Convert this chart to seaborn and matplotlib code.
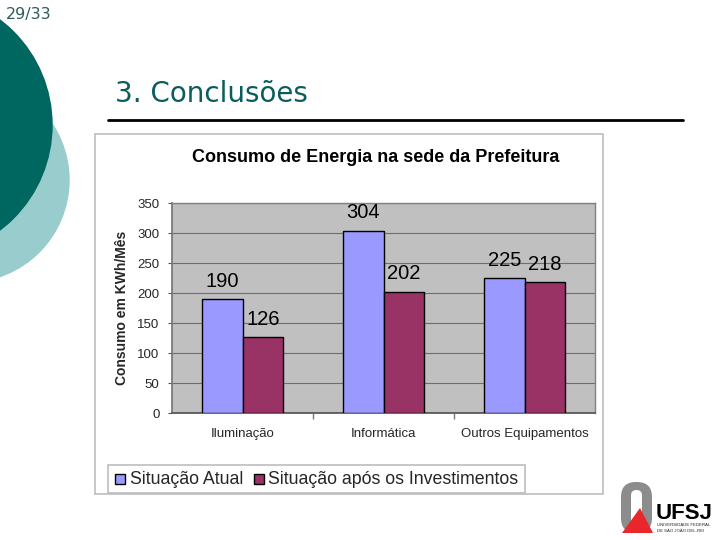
import matplotlib
matplotlib.use("Agg")
import matplotlib.pyplot as plt
import matplotlib.patches as mpatches
import seaborn as sns
import pandas as pd

categories = ["Iluminação", "Informática", "Outros Equipamentos"]
series_names = ["Situação Atual", "Situação após os Investimentos"]
atual = [190, 304, 225]
apos = [126, 202, 218]
yticks = [0, 50, 100, 150, 200, 250, 300, 350]

df = pd.DataFrame({
    "cat": categories * 2,
    "serie": [series_names[0]] * 3 + [series_names[1]] * 3,
    "valor": atual + apos,
})

sns.set_theme(style="white")
plt.rcParams['font.family'] = ['Liberation Sans', 'DejaVu Sans']

W, H = 720, 540
fig = plt.figure(figsize=(7.2, 5.4), dpi=100)
fig.patch.set_facecolor("white")

# slide background axes in pixel coordinates
bg = fig.add_axes([0, 0, 1, 1])
bg.set_xlim(0, W)
bg.set_ylim(H, 0)
bg.axis("off")
bg.add_patch(mpatches.Circle((-33, 180), 102, color="#99CCCC", zorder=1))
bg.add_patch(mpatches.Circle((-80, 125), 132, color="#006660", zorder=2))
bg.text(6, 15, "29/33", fontsize=11.5, color="#2F5C5C", family="DejaVu Sans",
        va="center", ha="left", zorder=5)
bg.text(115, 94, "3. Conclusões", fontsize=20, color="#0B5C5C", family="DejaVu Sans",
        va="center", ha="left")
bg.plot([108, 683], [119.5, 119.5], color="black", lw=2)
# chart frame
bg.add_patch(mpatches.Rectangle((95, 134), 508, 360, fill=True, facecolor="white",
                                edgecolor="#BDBDBD", lw=1.2))
bg.text(376, 157, "Consumo de Energia na sede da Prefeitura", fontsize=13,
        fontweight="bold", ha="center", va="center", color="black")
# legend box
bg.add_patch(mpatches.Rectangle((108, 465), 417, 28, facecolor="white",
                                edgecolor="#BDBDBD", lw=1.2))
bg.add_patch(mpatches.Rectangle((115, 474), 10, 10, facecolor="#9999FF", edgecolor="black", lw=1))
bg.text(130, 479.5, series_names[0], fontsize=12.8, ha="left", va="center")
bg.add_patch(mpatches.Rectangle((254, 474), 10, 10, facecolor="#993366", edgecolor="black", lw=1))
bg.text(268, 479.5, series_names[1], fontsize=12.8, ha="left", va="center")

# logo
bg.add_patch(mpatches.FancyBboxPatch((621, 482), 31, 51, boxstyle="round,pad=0,rounding_size=15",
                                     facecolor="#8C8C8C", edgecolor="none"))
bg.add_patch(mpatches.FancyBboxPatch((631, 490), 11, 43, boxstyle="round,pad=0,rounding_size=5.5",
                                     facecolor="white", edgecolor="none"))
bg.add_patch(mpatches.Polygon([(622, 533), (653, 533), (640, 508)], closed=True,
                              facecolor="#E8262B", edgecolor="none"))
bg.text(656, 519, "UFSJ", fontsize=16, fontweight="bold", ha="left", va="baseline",
        color="black")
bg.text(657, 524.5, "UNIVERSIDADE FEDERAL", fontsize=3.1, ha="left", va="center", color="#222222")
bg.text(657, 531.5, "DE SÃO JOÃO DEL-REI", fontsize=3.1, ha="left", va="center", color="#222222")

# chart axes
ax = fig.add_axes([172 / W, 1 - 413 / H, 423 / W, 210 / H])
ax.set_facecolor("#C0C0C0")
sns.barplot(data=df, x="cat", y="valor", hue="serie", order=categories,
            hue_order=series_names, palette=["#9999FF", "#993366"],
            width=0.575, gap=0, edgecolor="black", linewidth=1, saturation=1,
            legend=False, ax=ax, zorder=3)
ax.set_ylim(0, 350)
ax.set_xlim(-0.5, 2.5)
ax.set_yticks(yticks)
ax.set_yticklabels([str(v) for v in yticks], fontsize=9.5)
ax.yaxis.grid(True, color="#6E6E6E", lw=0.8)
ax.set_axisbelow(True)
ax.tick_params(axis="y", length=3, width=0.8, color="#555555", pad=6, left=True)
ax.set_xticks([0, 1, 2])
ax.set_xticklabels(categories, fontsize=9.5)
ax.tick_params(axis="x", length=0, pad=11)
ax.set_xticks([0.5, 1.5], minor=True)
ax.tick_params(axis="x", which="minor", length=4, color="#777777", bottom=True)
ax.set_xlabel("")
ax.set_ylabel("Consumo em KWh/Mês", fontsize=10, fontweight="bold", labelpad=6)
for side in ["top", "right"]:
    ax.spines[side].set_color("#808080")
    ax.spines[side].set_linewidth(1)
ax.spines["left"].set_color("#777777")
ax.spines["bottom"].set_color("#555555")

for cont in ax.containers:
    ax.bar_label(cont, labels=[f"{v:.0f}" for v in cont.datavalues], padding=6,
                 fontsize=14.5, color="black")

fig.savefig("out.png", dpi=100)
